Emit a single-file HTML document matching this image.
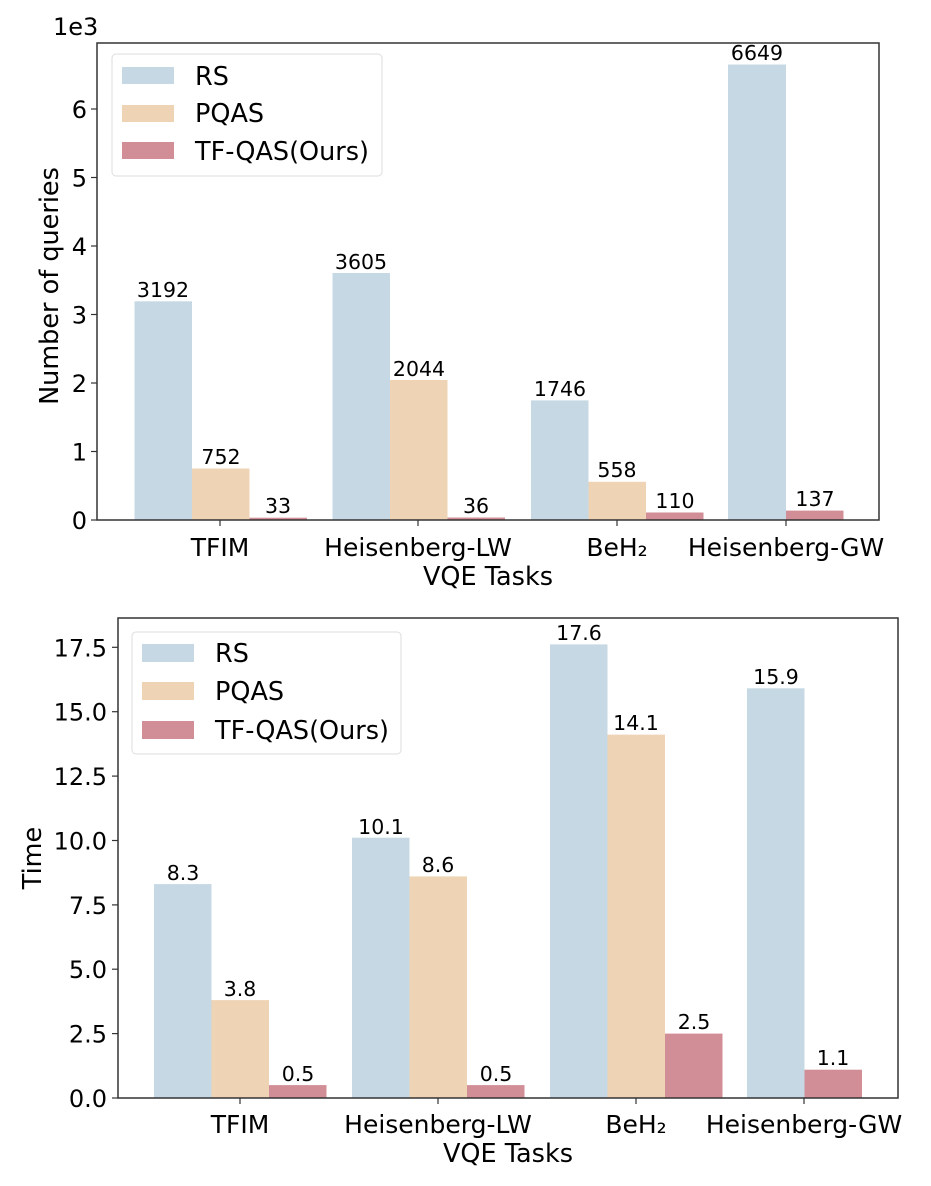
<!DOCTYPE html>
<html><head><meta charset="utf-8"><style>
html,body{margin:0;padding:0;background:#fff;}
svg{display:block;font-family:"DejaVu Sans","Liberation Sans",sans-serif;}
.t{font-size:24px;fill:#000;}
.x{font-size:25px;fill:#000;}
.v{font-size:20.5px;fill:#000;text-anchor:middle;}
.l{font-size:25.5px;fill:#000;}
</style></head><body>
<svg width="931" height="1186" viewBox="0 0 931 1186" xmlns="http://www.w3.org/2000/svg">
<!-- TOP CHART -->
<g fill="#c5d8e3">
<rect x="134.5" y="301.3" width="57.5" height="218.7"/>
<rect x="332.5" y="273" width="57.5" height="247"/>
<rect x="531" y="400.4" width="57.5" height="119.6"/>
<rect x="728" y="64.5" width="58" height="455.5"/>
</g>
<g fill="#eed4b5">
<rect x="192" y="468.5" width="57.5" height="51.5"/>
<rect x="390" y="380" width="57.5" height="140"/>
<rect x="588.5" y="481.8" width="57.5" height="38.2"/>
</g>
<g fill="#d18e96">
<rect x="249.5" y="517.7" width="57.5" height="2.3"/>
<rect x="447.5" y="517.5" width="57.5" height="2.5"/>
<rect x="646" y="512.5" width="57.5" height="7.5"/>
<rect x="786" y="510.6" width="57.5" height="9.4"/>
</g>
<g class="v">
<text x="163" y="297">3192</text><text x="221" y="464">752</text><text x="278" y="513">33</text>
<text x="361" y="269">3605</text><text x="419" y="376">2044</text><text x="476" y="513">36</text>
<text x="560" y="396">1746</text><text x="617" y="477">558</text><text x="675" y="508">110</text>
<text x="757" y="60">6649</text><text x="815" y="506">137</text>
</g>
<rect x="97" y="43" width="782" height="477" fill="none" stroke="#333" stroke-width="1.5"/>
<g stroke="#333" stroke-width="1.2">
<line x1="91" y1="520" x2="97" y2="520"/><line x1="91" y1="451.5" x2="97" y2="451.5"/><line x1="91" y1="383" x2="97" y2="383"/><line x1="91" y1="314.5" x2="97" y2="314.5"/><line x1="91" y1="246" x2="97" y2="246"/><line x1="91" y1="177.5" x2="97" y2="177.5"/><line x1="91" y1="109" x2="97" y2="109"/>
<line x1="220" y1="520" x2="220" y2="526"/><line x1="418" y1="520" x2="418" y2="526"/><line x1="617" y1="520" x2="617" y2="526"/><line x1="786" y1="520" x2="786" y2="526"/>
</g>
<g class="t" text-anchor="end">
<text x="87" y="529">0</text><text x="87" y="460.5">1</text><text x="87" y="392">2</text><text x="87" y="323.5">3</text><text x="87" y="255">4</text><text x="87" y="186.5">5</text><text x="87" y="118">6</text>
</g>
<text class="t" x="53" y="35">1e3</text>
<g class="x" text-anchor="middle">
<text x="220" y="556">TFIM</text><text x="418" y="556">Heisenberg-LW</text><text x="617" y="556">BeH₂</text><text x="786" y="556">Heisenberg-GW</text>
</g>
<text class="l" x="488" y="585" text-anchor="middle">VQE Tasks</text>
<text class="l" x="0" y="0" text-anchor="middle" transform="translate(58,286) rotate(-90)">Number of queries</text>
<rect x="112" y="54" width="270" height="122" rx="4" fill="#fff" fill-opacity="0.85" stroke="#ddd"/>
<rect x="122" y="67" width="52" height="17" fill="#c5d8e3"/>
<rect x="122" y="105" width="52" height="17" fill="#eed4b5"/>
<rect x="122" y="142" width="52" height="17" fill="#d18e96"/>
<text class="l" x="195" y="85">RS</text><text class="l" x="195" y="122">PQAS</text><text class="l" x="195" y="160">TF-QAS(Ours)</text>

<!-- BOTTOM CHART -->
<g fill="#c5d8e3">
<rect x="154" y="884.1" width="57.5" height="213.9"/>
<rect x="352" y="837.7" width="57.5" height="260.3"/>
<rect x="550" y="644.4" width="57.5" height="453.6"/>
<rect x="747" y="688.3" width="57.5" height="409.7"/>
</g>
<g fill="#eed4b5">
<rect x="211.5" y="1000.1" width="57.5" height="97.9"/>
<rect x="409.5" y="876.4" width="57.5" height="221.6"/>
<rect x="607.5" y="734.6" width="57.5" height="363.4"/>
</g>
<g fill="#d18e96">
<rect x="269" y="1085.1" width="57.5" height="12.9"/>
<rect x="467" y="1085.1" width="57.5" height="12.9"/>
<rect x="665" y="1033.6" width="57.5" height="64.4"/>
<rect x="804.5" y="1069.7" width="57.5" height="28.3"/>
</g>
<g class="v">
<text x="183" y="880">8.3</text><text x="240" y="996">3.8</text><text x="298" y="1081">0.5</text>
<text x="381" y="834">10.1</text><text x="438" y="872">8.6</text><text x="496" y="1081">0.5</text>
<text x="579" y="640">17.6</text><text x="636" y="730">14.1</text><text x="694" y="1029">2.5</text>
<text x="776" y="684">15.9</text><text x="833" y="1065">1.1</text>
</g>
<rect x="118" y="618" width="780" height="480" fill="none" stroke="#333" stroke-width="1.5"/>
<g stroke="#333" stroke-width="1.2">
<line x1="112" y1="1098" x2="118" y2="1098"/><line x1="112" y1="1033.6" x2="118" y2="1033.6"/><line x1="112" y1="969.2" x2="118" y2="969.2"/><line x1="112" y1="904.9" x2="118" y2="904.9"/><line x1="112" y1="840.5" x2="118" y2="840.5"/><line x1="112" y1="776.1" x2="118" y2="776.1"/><line x1="112" y1="711.7" x2="118" y2="711.7"/><line x1="112" y1="647.3" x2="118" y2="647.3"/>
<line x1="240" y1="1098" x2="240" y2="1104"/><line x1="438" y1="1098" x2="438" y2="1104"/><line x1="636" y1="1098" x2="636" y2="1104"/><line x1="804" y1="1098" x2="804" y2="1104"/>
</g>
<g class="t" text-anchor="end">
<text x="107" y="1107">0.0</text><text x="107" y="1042.6">2.5</text><text x="107" y="978.2">5.0</text><text x="107" y="913.9">7.5</text><text x="107" y="849.5">10.0</text><text x="107" y="785.1">12.5</text><text x="107" y="720.7">15.0</text><text x="107" y="656.3">17.5</text>
</g>
<g class="x" text-anchor="middle">
<text x="240" y="1133">TFIM</text><text x="438" y="1133">Heisenberg-LW</text><text x="636" y="1133">BeH₂</text><text x="804" y="1133">Heisenberg-GW</text>
</g>
<text class="l" x="508" y="1162" text-anchor="middle">VQE Tasks</text>
<text class="l" x="0" y="0" text-anchor="middle" transform="translate(41,858) rotate(-90)">Time</text>
<rect x="132" y="632" width="269" height="122" rx="4" fill="#fff" fill-opacity="0.85" stroke="#ddd"/>
<rect x="142" y="644" width="52" height="18" fill="#c5d8e3"/>
<rect x="142" y="682" width="52" height="18" fill="#eed4b5"/>
<rect x="142" y="721" width="52" height="18" fill="#d18e96"/>
<text class="l" x="215" y="662">RS</text><text class="l" x="215" y="700">PQAS</text><text class="l" x="215" y="739">TF-QAS(Ours)</text>
</svg>
</body></html>
